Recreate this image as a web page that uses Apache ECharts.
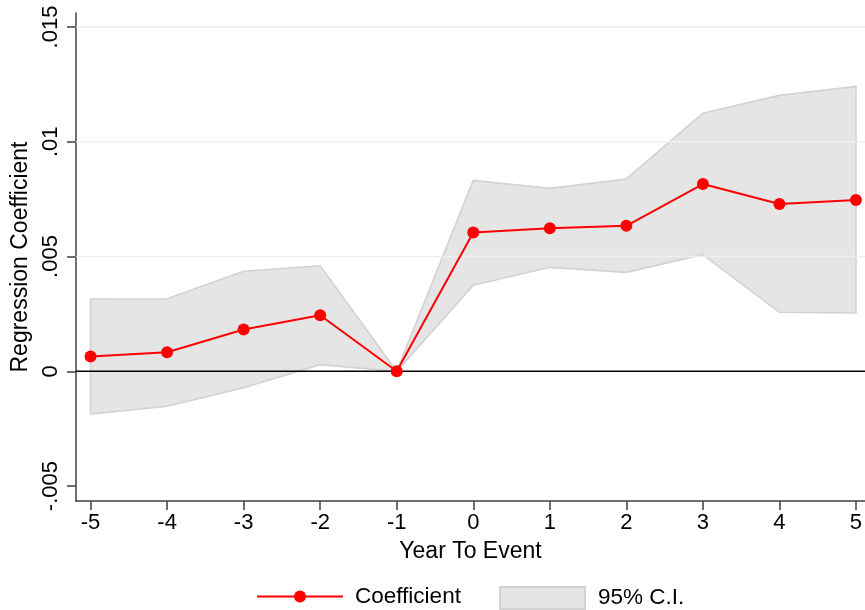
<!DOCTYPE html>
<html>
<head>
<meta charset="utf-8">
<title>Event study: regression coefficients</title>
<script src="https://cdn.jsdelivr.net/npm/echarts@6/dist/echarts.min.js"></script>
<style>
  html, body { margin: 0; padding: 0; background: #fff; }
  #chart { width: 865px; height: 610px; }
</style>
</head>
<body>
<div id="chart"></div>
<script>
// Event time (years relative to the event)
const years = [-5, -4, -3, -2, -1, 0, 1, 2, 3, 4, 5];
// Point estimates
const coefficient = [0.00065, 0.00083, 0.00182, 0.00244, 0, 0.00605, 0.00623, 0.00634, 0.00816, 0.00729, 0.00746];
// 95% confidence interval bounds
const ciLower = [-0.00186, -0.00152, -0.00072, 0.00029, 0, 0.00375, 0.00453, 0.00431, 0.00508, 0.00257, 0.00254];
const ciUpper = [0.00315, 0.00316, 0.00436, 0.00460, 0, 0.00832, 0.00797, 0.00838, 0.01124, 0.01202, 0.01241];
// Y-axis ticks and their labels
const yTickValues = [-0.005, 0, 0.005, 0.01, 0.015];
const yTickLabels = ['-.005', '0', '.005', '.01', '.015'];
// Horizontal grid lines
const yGridValues = [0.005, 0.01, 0.015];

const FONT = "'Liberation Sans', Arial, sans-serif";
const X_MIN = -5.19, X_MAX = 5.118;

const chart = echarts.init(document.getElementById('chart'));

const bandData = years.map((x, i) => [x, ciLower[i], ciUpper[i]]);
const coefData = years.map((x, i) => [x, coefficient[i]]);

function labelFor(v) {
  for (let i = 0; i < yTickValues.length; i++) {
    if (Math.abs(yTickValues[i] - v) < 1e-9) return yTickLabels[i];
  }
  return '';
}

// Shaded CI band drawn as one polygon through the axis scales
function renderBand(params, api) {
  if (params.dataIndex !== 0) return null;
  const upperPts = years.map((x, i) => api.coord([x, ciUpper[i]]));
  const lowerPts = years.map((x, i) => api.coord([x, ciLower[i]])).reverse();
  return {
    type: 'polygon',
    shape: { points: upperPts.concat(lowerPts) },
    style: { fill: '#e5e5e5', stroke: '#d2d2d2', lineWidth: 1.6, lineJoin: 'miter' }
  };
}

// Full-width horizontal rule at a given y value
function hRule(name, v, color, width, z) {
  return {
    name: name,
    type: 'line',
    z: z,
    data: [[X_MIN, v], [X_MAX, v]],
    symbol: 'none',
    lineStyle: { color: color, width: width },
    silent: true,
    tooltip: { show: false }
  };
}

chart.setOption({
  animation: false,
  backgroundColor: '#ffffff',
  textStyle: { fontFamily: FONT },
  grid: { left: 76, right: 0, top: 13, bottom: 109, containLabel: false, outerBoundsMode: 'none' },
  xAxis: {
    type: 'value',
    min: X_MIN,
    max: X_MAX,
    name: 'Year To Event',
    nameLocation: 'middle',
    nameGap: 39,
    nameTextStyle: { fontSize: 23, color: '#000', fontFamily: FONT },
    axisLine: { show: true, onZero: false, lineStyle: { color: '#404040', width: 1.5 } },
    axisTick: { show: true, length: 9, customValues: years, lineStyle: { color: '#404040', width: 1.5 } },
    axisLabel: { show: true, customValues: years, fontSize: 22, color: '#000', margin: 11, fontFamily: FONT },
    splitLine: { show: false }
  },
  yAxis: {
    type: 'value',
    min: -0.00565,
    max: 0.01561,
    name: 'Regression Coefficient',
    nameLocation: 'middle',
    nameGap: 42,
    nameTextStyle: { fontSize: 23, color: '#000', fontFamily: FONT },
    axisLine: { show: true, onZero: false, lineStyle: { color: '#404040', width: 1.5 } },
    axisTick: { show: true, length: 9, customValues: yTickValues, lineStyle: { color: '#404040', width: 1.5 } },
    axisLabel: {
      show: true, customValues: yTickValues, rotate: 90, fontSize: 22, color: '#000',
      margin: 14, fontFamily: FONT, formatter: labelFor
    },
    splitLine: { show: false }
  },
  legend: [
    {
      data: [{ name: 'Coefficient' }],
      left: 256, top: 585, padding: 0,
      itemWidth: 86, itemHeight: 15,
      textStyle: { fontSize: 22.5, color: '#000', fontFamily: FONT, padding: [0, 0, 0, 7] },
      selectedMode: false
    },
    {
      data: [{ name: '95% C.I.', icon: 'rect' }],
      left: 499, top: 586, padding: 0,
      itemWidth: 85, itemHeight: 22,
      textStyle: { fontSize: 22.5, color: '#000', fontFamily: FONT, padding: [0, 0, 0, 8] },
      selectedMode: false
    }
  ],
  series: [
    {
      name: '95% C.I.',
      type: 'custom',
      z: 1,
      renderItem: renderBand,
      data: bandData,
      encode: { x: 0, y: [1, 2] },
      itemStyle: { color: '#e5e5e5', borderColor: '#d2d2d2', borderWidth: 1.5 },
      silent: true
    },
    ...yGridValues.map((v, i) => hRule('grid' + i, v, '#e9f1f3', 1.5, 2)),
    hRule('zero', 0, '#000000', 1.6, 2),
    {
      name: 'Coefficient',
      type: 'line',
      z: 3,
      data: coefData,
      symbol: 'circle',
      symbolSize: 12,
      lineStyle: { color: '#ff0000', width: 2 },
      itemStyle: { color: '#ff0000' },
      silent: true
    }
  ]
});
</script>
</body>
</html>
